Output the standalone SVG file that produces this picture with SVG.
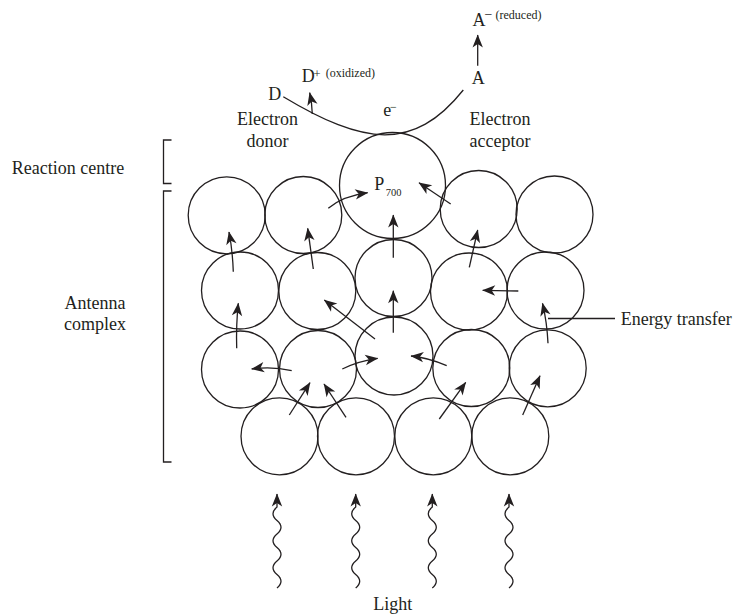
<svg xmlns="http://www.w3.org/2000/svg" xmlns:xlink="http://www.w3.org/1999/xlink" width="737" height="615" viewBox="0 0 737 615">
  <style>
    .pig { fill: none; stroke: #231f20; stroke-width: 1.3; }
    .arr { fill: none; stroke: #231f20; stroke-width: 1.3; marker-end: url(#ah); }
    .ln { fill: none; stroke: #231f20; stroke-width: 1.3; }
    .t { font-family: "Liberation Serif", "Times New Roman", serif; font-size: 18px; fill: #231f20; }
    .sm { font-size: 12px; }
    .sub { font-size: 10.5px; }
    .sup { font-size: 12.5px; }
    .sup14 { font-size: 14px; }
  </style>
  <defs>
    <marker id="ah" markerUnits="userSpaceOnUse" markerWidth="16" markerHeight="12" viewBox="-14 -6 16 12" refX="0" refY="0" orient="auto">
      <path d="M0.5,0 L-12.5,-5.2 L-9,0 L-12.5,5.2 Z" fill="#231f20"/>
    </marker>
    <!-- photon: wavy line ending in an arrowhead at its origin -->
    <path id="wave" class="arr" d="M0,94 q8,-6.75 0,-13.5 t0,-13.5 t0,-13.5 t0,-13.5 t0,-13.5 t0,-13.5 L0,0"/>
  </defs>
  <rect width="737" height="615" fill="#ffffff"/>

  <!-- side labels and brackets -->
  <g id="side-labels">
    <text class="t" x="11.7" y="174">Reaction centre</text>
    <path class="ln" d="M171.5,140 H163.5 V183.5 H171.5"/>
    <text class="t" x="95" y="309" text-anchor="middle">Antenna</text>
    <text class="t" x="95" y="330" text-anchor="middle">complex</text>
    <path class="ln" d="M171.5,191 H163.5 V462 H171.5"/>
  </g>

  <!-- reaction centre -->
  <g id="rc-p700">
    <circle class="pig" cx="392.5" cy="185.5" r="53"/>
    <text class="t" x="374.3" y="190">P</text>
    <text class="t sub" x="385.7" y="195.7">700</text>
  </g>

  <!-- antenna pigments, row 1 -->
  <g id="ant-r1c1"><circle class="pig" cx="226.7" cy="215.3" r="38.5"/></g>
  <g id="ant-r1c2"><circle class="pig" cx="303.3" cy="215" r="38.5"/></g>
  <g id="ant-r1c4"><circle class="pig" cx="478.7" cy="209" r="38.5"/></g>
  <g id="ant-r1c5"><circle class="pig" cx="554.5" cy="214.5" r="38.5"/></g>
  <!-- row 2 -->
  <g id="ant-r2c1"><circle class="pig" cx="240" cy="290.5" r="38.5"/></g>
  <g id="ant-r2c2"><circle class="pig" cx="317.3" cy="291" r="38.5"/></g>
  <g id="ant-r2c3"><circle class="pig" cx="393.5" cy="278" r="38.5"/></g>
  <g id="ant-r2c4"><circle class="pig" cx="469" cy="291.5" r="38.5"/></g>
  <g id="ant-r2c5"><circle class="pig" cx="545.5" cy="290.5" r="38.5"/></g>
  <!-- row 3 -->
  <g id="ant-r3c1"><circle class="pig" cx="240" cy="369.5" r="38.5"/></g>
  <g id="ant-r3c2"><circle class="pig" cx="318" cy="369" r="38.5"/></g>
  <g id="ant-r3c3"><circle class="pig" cx="394" cy="356" r="39"/></g>
  <g id="ant-r3c4"><circle class="pig" cx="471.3" cy="368" r="38.5"/></g>
  <g id="ant-r3c5"><circle class="pig" cx="547.7" cy="368.3" r="38.5"/></g>
  <!-- row 4 -->
  <g id="ant-r4c1"><circle class="pig" cx="279.5" cy="436.3" r="38.5"/></g>
  <g id="ant-r4c2"><circle class="pig" cx="356" cy="436.3" r="38.5"/></g>
  <g id="ant-r4c3"><circle class="pig" cx="433.3" cy="436.3" r="38.5"/></g>
  <g id="ant-r4c4"><circle class="pig" cx="510.3" cy="436.3" r="38.5"/></g>

  <!-- donor / acceptor -->
  <g id="donor">
    <text class="t" x="268.3" y="100">D</text>
    <text class="t" x="301.7" y="82.3">D</text>
    <text class="t sup" x="313.5" y="77.5">+</text>
    <text class="t sm" x="325.7" y="77.3">(oxidized)</text>
    <text class="t" x="267.5" y="125" text-anchor="middle">Electron</text>
    <text class="t" x="267.5" y="146.7" text-anchor="middle">donor</text>
  </g>
  <g id="acceptor">
    <text class="t" x="471.7" y="84">A</text>
    <text class="t" x="472.5" y="26">A</text>
    <text class="t sup14" x="484.5" y="19">−</text>
    <text class="t sm" x="495.5" y="18.5">(reduced)</text>
    <text class="t" x="500" y="125" text-anchor="middle">Electron</text>
    <text class="t" x="500" y="146.7" text-anchor="middle">acceptor</text>
  </g>
  <g id="electron">
    <text class="t" x="383.3" y="116">e</text>
    <text class="t sm" x="390" y="110.5">−</text>
  </g>

  <!-- connectors -->
  <g id="connectors">
    <!-- electron path from donor to acceptor over the reaction centre -->
    <path class="ln" d="M283.3,96.7 C363.3,144.7 413.3,152.5 463.3,90"/>
    <path class="arr" d="M312.3,114 Q312,103 309.7,92.7"/>
    <path class="arr" d="M477.7,65.7 L477.7,35"/>

    <!-- energy transfer through the antenna -->
    <path class="arr" d="M233.3,271.7 Q232.5,250 229,232"/>
    <path class="arr" d="M313.3,269 L307.7,228.3"/>
    <path class="arr" d="M328.3,208.3 Q343,196 367.7,192.7"/>
    <path class="arr" d="M450.7,204 L419,182.7"/>
    <path class="arr" d="M393.3,257.7 L393.3,215"/>
    <path class="arr" d="M469.3,267.3 L477.7,230"/>
    <path class="arr" d="M518.3,291 L482.7,290.3"/>
    <path class="arr" d="M548,343.3 Q547,322 542.5,303.3"/>
    <path class="arr" d="M236.7,348.3 Q236,325 238.3,303.3"/>
    <path class="arr" d="M375,339 L324.3,300"/>
    <path class="arr" d="M393.3,332.7 L393.3,290.7"/>
    <path class="arr" d="M291.7,370.7 Q272,366 251.7,369"/>
    <path class="arr" d="M342.3,369 Q358,361 377.7,358.3"/>
    <path class="arr" d="M289.3,415 L310,382.7"/>
    <path class="arr" d="M346,417.3 L324,384"/>
    <path class="arr" d="M446.7,365.7 Q428,357.5 411,356"/>
    <path class="arr" d="M439.3,419 L465.7,382.3"/>
    <path class="arr" d="M522.7,415 L540,375.7"/>

    <!-- leader to the label -->
    <path class="ln" d="M548,318.5 H615"/>

    <!-- incoming light -->
    <use xlink:href="#wave" href="#wave" x="277" y="494"/>
    <use xlink:href="#wave" href="#wave" x="355.7" y="494"/>
    <use xlink:href="#wave" href="#wave" x="432.3" y="494"/>
    <use xlink:href="#wave" href="#wave" x="509" y="494"/>
  </g>

  <g id="labels">
    <text class="t" x="620.7" y="325">Energy transfer</text>
    <text class="t" x="373.3" y="610">Light</text>
  </g>
</svg>
